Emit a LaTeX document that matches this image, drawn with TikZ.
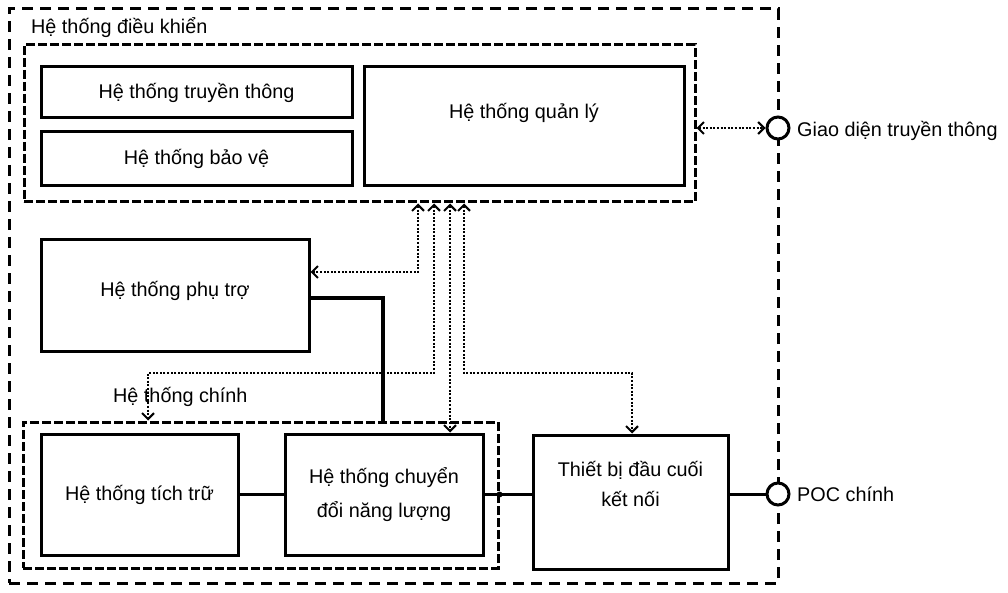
\documentclass[tikz,border=0pt]{standalone}
\usepackage{fontspec}
\setmainfont{Liberation Sans}
\usetikzlibrary{arrows.meta}
\begin{document}
\begin{tikzpicture}[x=1pt,y=-1pt,
  every node/.style={font=\fontsize{19.8}{30}\selectfont},
  box/.style={draw, line width=3pt, inner sep=0pt, align=center},
  outerdash/.style={draw, line width=3pt, dash pattern=on 11pt off 7pt, inner sep=0pt},
  grpdash/.style={draw, line width=3pt, dash pattern=on 9pt off 3pt, inner sep=0pt},
  dotln/.style={line width=2.3pt, dash pattern=on 2pt off 1.6pt, >={Straight Barb[length=6pt,width=12pt,line width=2pt]}},
  solidln/.style={line width=3pt},
  port/.style={circle, draw, fill=white, line width=3pt, minimum size=22pt, inner sep=0pt},
  lbl/.style={anchor=west, inner sep=0pt}
]
\useasboundingbox[fill=white] (0,0) rectangle (1008,593);

% outer system boundary
\node[outerdash, minimum width=769pt, minimum height=574pt] (sys) at (393.5,296) {};
\node[lbl] (sysl) at (31,28) {Hệ thống điều khiển};

% control group
\node[grpdash, minimum width=671pt, minimum height=157pt] (ctrl) at (359.5,123.5) {};
\node[box, minimum width=311pt, minimum height=51pt] (comm) at (196.5,92.5) {Hệ thống truyền thông};
\node[box, minimum width=311pt, minimum height=54pt] (prot) at (196.5,159) {Hệ thống bảo vệ};
\node[box, minimum width=320pt, minimum height=119pt, text depth=31pt] (mgmt) at (524,126.5) {Hệ thống quản lý};

% auxiliary
\node[box, minimum width=268pt, minimum height=111pt, text depth=14pt] (aux) at (175,295.5) {Hệ thống phụ trợ};

% main group
\node[lbl] (mainl) at (113,397) {Hệ thống chính};
\node[grpdash, minimum width=475pt, minimum height=146pt] (main) at (260.5,495) {};
\node[box, minimum width=197pt, minimum height=121pt] (stor) at (139.5,494.5) {Hệ thống tích trữ};
\node[box, minimum width=198pt, minimum height=121pt, font=\fontsize{19.8}{34}\selectfont] (conv) at (384,494.5) {Hệ thống chuyển\\đổi năng lượng};
\node[box, minimum width=195pt, minimum height=134pt, text depth=36pt] (term) at (630.5,502) {Thiết bị đầu cuối\\kết nối};

% ports
\node[port] (gport) at (778,128) {};
\node[lbl] (gportl) at (797,131) {Giao diện truyền thông};
\node[port] (poc) at (778,494) {};
\node[lbl] (pocl) at (797,494) {POC chính};

% solid connections
\draw[solidln] (stor.east) -- (conv.west);
\draw[solidln] (conv.east) -- (conv.east -| term.west);
\fill (main.east |- conv.east) circle (3pt);
\draw[solidln] (term.east |- poc.west) -- (poc.west);
\draw[line width=3.4pt] (aux.east |- 0,298) -| (main.north -| 383,0);

% dotted signal connections
\draw[dotln,<->] (ctrl.east |- gport.west) -- (gport.west);
\draw[dotln,<->] (418,0 |- ctrl.south) |- (aux.east |- 0,272);
\draw[dotln,<->] (434,0 |- ctrl.south) -- (434,373) -| (main.north -| 148,0);
\draw[dotln,<->] (450,0 |- ctrl.south) -- (450,0 |- conv.north);
\draw[dotln,<->] (464,0 |- ctrl.south) -- (464,373) -| (term.north -| 632,0);
\end{tikzpicture}
\end{document}
